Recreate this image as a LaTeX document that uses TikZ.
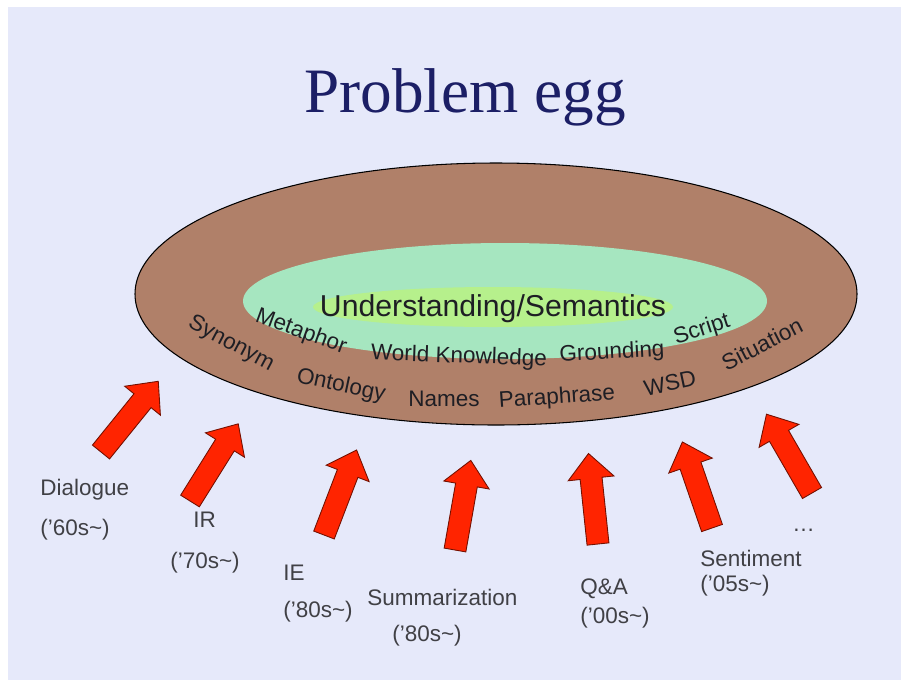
\documentclass[tikz,border=0pt]{standalone}
\usepackage{fontspec}
\setmainfont{Liberation Sans}
\newfontfamily\titlefont{Liberation Serif}
\definecolor{slidebg}{HTML}{E6E9FA}
\definecolor{eggbrown}{HTML}{B08069}
\definecolor{eggmint}{HTML}{A6E6C0}
\definecolor{egglime}{HTML}{B6F08C}
\definecolor{arrowred}{HTML}{FF2400}
\definecolor{titleblue}{HTML}{1C1F66}
\definecolor{inktext}{HTML}{1E1E24}
\tikzset{
  topic/.style={font=\fontsize{12.8}{15}\selectfont, inner sep=0pt, text=inktext},
  field/.style={font=\fontsize{12.8}{15}\selectfont, anchor=west, inner sep=0pt, text=inktext!85!white},
  push/.style={fill=arrowred, draw=arrowred!45!black, line width=0.5pt, line join=miter}
}
\begin{document}
\begin{tikzpicture}[x=0.02cm,y=-0.02cm]
  % page and slide
  \fill[white] (0,0) rectangle (909,687);
  \fill[slidebg] (8,7) rectangle (901,680);
  % title
  \node[anchor=base, text=titleblue, font=\titlefont\fontsize{36}{42}\selectfont] (title) at (465,112) {Problem egg};
  % outer egg
  \draw[fill=eggbrown, line width=0.6pt] (496,294) ellipse (361 and 131);
  % inner egg and glow
  \fill[eggmint] (505,301) ellipse (262 and 58);
  \fill[egglime] (493,307) ellipse (180 and 20);
  \node[font=\fontsize{17.2}{20}\selectfont, text=inktext] (core) at (493,309) {Understanding/Semantics};
  % topics on the egg
  \node[topic, rotate=-28] (synonym) at (231,344) {Synonym};
  \node[topic, rotate=-20] (metaphor) at (301,332) {Metaphor};
  \node[topic, rotate=-12] (ontology) at (341,386) {Ontology};
  \node[topic, rotate=-2] (world) at (459,357) {World Knowledge};
  \node[topic] (names) at (444,399) {Names};
  \node[topic, rotate=4] (paraphrase) at (557,398) {Paraphrase};
  \node[topic, rotate=3] (grounding) at (612,353) {Grounding};
  \node[topic, rotate=12] (wsd) at (670,383) {WSD};
  \node[topic, rotate=18] (script) at (702,330) {Script};
  \node[topic, rotate=27] (situation) at (762,344) {Situation};
  % arrows pushing into the egg
  \foreach \x/\y/\a in {101/452/51, 190/501/58, 324/535/69, 455/550/80,
                        598/544/96, 712/528/109, 812/493/120}
  {
    \begin{scope}[shift={(\x,\y)}, rotate=\a]
      \draw[push] (0,-11) -- (66,-11) -- (66,-23) -- (91,0) -- (66,23) -- (66,11) -- (0,11) -- cycle;
    \end{scope}
  }
  % application fields
  \node[field] (dialogue) at (40,490) {Dialogue};
  \node[field] (dialogueyr) at (40,530) {('60s\textasciitilde)};
  \node[field] (ir) at (193,520) {IR};
  \node[field] (iryr) at (170,563) {('70s\textasciitilde)};
  \node[field] (ie) at (283,573) {IE};
  \node[field] (ieyr) at (283,612) {('80s\textasciitilde)};
  \node[field] (summ) at (367,597) {Summarization};
  \node[field] (summyr) at (392,636) {('80s\textasciitilde)};
  \node[field] (qa) at (580,589) {Q\&A};
  \node[field] (qayr) at (580,618) {('00s\textasciitilde)};
  \node[field] (senti) at (700,558) {Sentiment};
  \node[field] (sentiyr) at (700,586) {('05s\textasciitilde)};
  \node[field] (more) at (792,530) {\dots};
\end{tikzpicture}
\end{document}
